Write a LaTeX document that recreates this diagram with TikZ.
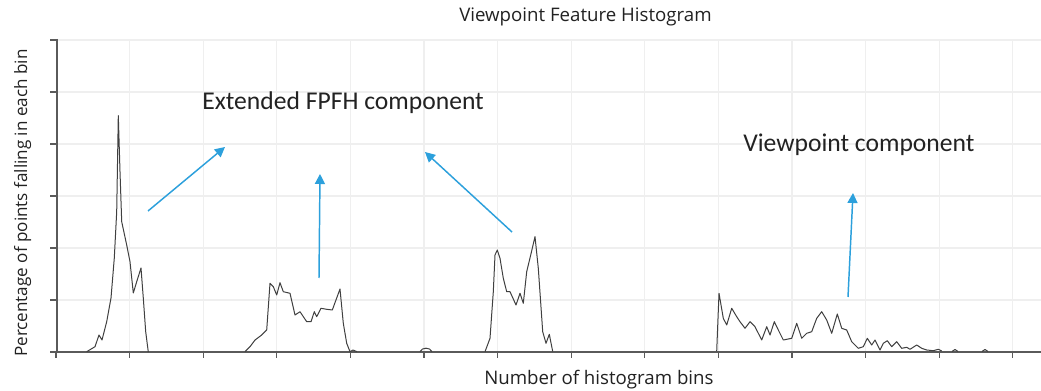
\documentclass[tikz,border=0pt]{standalone}
\usepackage{fontspec}
\setmainfont{Open Sans}
\newfontfamily\annofont{Carlito}
\usetikzlibrary{arrows.meta}
\definecolor{arrowblue}{HTML}{2CA0DC}
\definecolor{gridgray}{HTML}{EFEFEF}
\definecolor{axisgray}{HTML}{5A5A5A}
\definecolor{curvegray}{HTML}{404040}
\definecolor{textgray}{HTML}{222222}

\begin{document}
\begin{tikzpicture}[x=0.75pt,y=-0.75pt,
  gridline/.style={draw=gridgray,line width=0.8pt},
  axisline/.style={draw=axisgray,line width=1.1pt},
  tickline/.style={draw=axisgray,line width=0.8pt},
  curve/.style={draw=curvegray,line width=0.75pt,line join=round},
  pointer/.style={draw=arrowblue,line width=1.1pt,-{Triangle[length=7.5pt,width=7.5pt]}},
  anno/.style={font=\annofont\fontsize{19.2}{22}\selectfont,text=textgray,inner sep=0pt,anchor=base west},
  chartlabel/.style={font=\fontsize{14}{16}\selectfont,text=textgray,inner sep=0pt,anchor=base west}]

\useasboundingbox (0,0) rectangle (1041,391);
\fill[white] (0,0) rectangle (1041,391);

% background grid
\foreach \i in {1,...,13}
  \draw[gridline] ({56+\i*73.6},40) -- ({56+\i*73.6},352);
\foreach \j in {1,...,6}
  \draw[gridline] (57,{352-\j*52}) -- (1041,{352-\j*52});

% ticks
\foreach \i in {0,...,13}
  \draw[tickline] ({56+\i*73.6},352) -- ({56+\i*73.6},358);
\foreach \j in {0,...,6}
  \draw[tickline] (50,{352-\j*52}) -- (57,{352-\j*52});

% axes
\coordinate (origin) at (57,352);
\coordinate (ytop) at (57,39);
\coordinate (xend) at (1041,352);
\draw[axisline] (ytop) -- (origin) -- (xend);

% histogram, first extended FPFH block
\draw[curve] (86.7,351.7) -- (95,346.7) -- (99,335) -- (102,340) -- (106.7,321.7)
  -- (111,298) -- (114.3,258) -- (116.7,211.7) -- (118.3,115.7) -- (120,171.7)
  -- (121.7,221.7) -- (126.7,245) -- (130,261.7) -- (133.3,293) -- (136.7,281.7)
  -- (141,268) -- (143.3,298) -- (145.7,331.7) -- (148.3,352);

% second block
\draw[curve] (245,351.7) -- (250,346.7) -- (255,340) -- (261.7,335) -- (266.7,330)
  -- (270,283.3) -- (273.3,286.7) -- (276.7,295) -- (280,282.7) -- (283.3,291.7)
  -- (290,293.3) -- (295,315) -- (300,311.7) -- (306.7,321.7) -- (311,321.7)
  -- (314.3,311.7) -- (316.7,316.7) -- (321,308.3) -- (326.7,309.3) -- (332.3,310)
  -- (340,289) -- (343.3,323.3) -- (346.7,343.3) -- (350,351.7) -- (353,350) -- (357,351.7);

% small bump
\draw[curve] (420,351.7) .. controls (422,347) and (430,347) .. (432,351.7);

% third block
\draw[curve] (485,351.7) -- (490,338.3) -- (493.3,291.7) -- (495,255) -- (497.3,250)
  -- (500,258.3) -- (503.3,278.3) -- (506.7,291.7) -- (510,291.7) -- (516,305)
  -- (520,293.3) -- (523.3,303.3) -- (526.7,271.7) -- (530.7,255) -- (535,236.7)
  -- (538.3,268.3) -- (542.7,331.7) -- (546,343.3) -- (549.3,334.3) -- (552.7,351.5);

% viewpoint component
\draw[curve] (716.7,351) -- (719,293.3) -- (723.3,318.3) -- (726.7,325) -- (731.7,308.3)
  -- (736.7,316.7) -- (740,321.7) -- (745,328.3) -- (750,321.7) -- (755,326.7)
  -- (761.7,340) -- (766.7,326.7) -- (770,335) -- (774.3,321.7) -- (778.3,330)
  -- (783.3,340) -- (791.7,338.3) -- (796.7,323.3) -- (801.7,338.3) -- (806.7,333.3)
  -- (811.7,331.7) -- (816.7,318.3) -- (821.7,311.7) -- (826.7,320) -- (831.7,333.3)
  -- (837.3,314) -- (841.7,328.3) -- (846.7,330) -- (851.7,341.7) -- (858.3,348.3)
  -- (863.3,346.7) -- (867.3,338.3) -- (871.7,345) -- (875,340) -- (880,350)
  -- (883.3,343.3) -- (887.3,340.7) -- (891.7,346.7) -- (896.7,341.7) -- (901.7,348.3)
  -- (906.7,347.3) -- (910,349.3) -- (916.7,345) -- (921.7,348.3) -- (926.7,350)
  -- (933.3,350.7) -- (938.3,349.3) -- (941.7,351);
\draw[curve] (952,351.5) -- (955,349.5) -- (958,351.5);
\draw[curve] (982,351.5) -- (985,349.5) -- (988,351.5);

% labels
\node[chartlabel] (title) at (459,22) {Viewpoint Feature Histogram};
\node[chartlabel] (xlabel) at (484,384) {Number of histogram bins};
\node[chartlabel,rotate=90,font=\fontsize{12.8}{15}\selectfont] (ylabel) at (27,357) {Percentage of points falling in each bin};
\node[anno] (fpfh) at (202,110) {Extended FPFH component};
\node[anno] (vp) at (743,152) {Viewpoint component};

% pointers
\coordinate (a1s) at (148,211); \coordinate (a1e) at (225,147);
\coordinate (a2s) at (319,278); \coordinate (a2e) at (320,174);
\coordinate (a3s) at (512,232); \coordinate (a3e) at (425,152);
\coordinate (a4s) at (848,297); \coordinate (a4e) at (853,193);
\draw[pointer] (a1s) -- (a1e);
\draw[pointer] (a2s) -- (a2e);
\draw[pointer] (a3s) -- (a3e);
\draw[pointer] (a4s) -- (a4e);
\end{tikzpicture}
\end{document}
